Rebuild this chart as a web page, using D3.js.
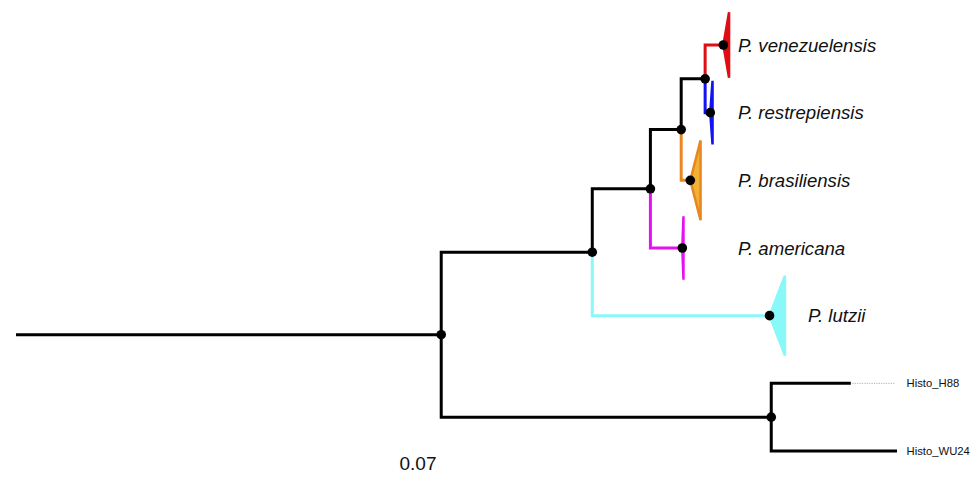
<!DOCTYPE html>
<html>
<head>
<meta charset="utf-8">
<script src="https://cdn.jsdelivr.net/npm/d3@7"></script>
<style>
  html, body { margin: 0; padding: 0; background: #fff; }
  svg { display: block; }
</style>
</head>
<body>
<div id="chart"></div>
<script>
// tree: node ids, parents, branch lengths (substitutions/site)
const nodeIds = ["root", "A", "B", "C", "D", "venezuelensis", "restrepiensis", "brasiliensis", "americana", "lutzii", "Histo", "Histo_H88", "Histo_WU24"];
const parentIds = [null, "root", "A", "B", "C", "D", "D", "C", "B", "A", "root", "Histo", "Histo"];
const branchLengths = [0.746, 0.265, 0.102, 0.054, 0.042, 0.032, 0.009, 0.016, 0.056, 0.311, 0.579, 0.137, 0.218];

// collapsed clades
const cladeIds = ["venezuelensis", "restrepiensis", "brasiliensis", "americana", "lutzii"];
const cladeLabels = ["P. venezuelensis", "P. restrepiensis", "P. brasiliensis", "P. americana", "P. lutzii"];
const cladeDepths = [0.010, 0.004, 0.018, 0.002, 0.027];
const cladeSpreads = [1.0, 0.97, 1.21, 0.97, 1.21];
const cladeColors = ["#e00d12", "#1212f5", "#e8871f", "#e312f2", "#88f8f8"];
const cladeFills = ["#e00d12", "#1212f5", "#f1b135", "#e312f2", "#88f8f8"];

const scaleLabel = "0.07";

const width = 978, height = 490;
const svg = d3.select("#chart").append("svg")
    .attr("width", width)
    .attr("height", height);

const table = nodeIds.map((id, i) => ({ id: id, parent: parentIds[i], len: branchLengths[i] }));
const root = d3.stratify().id(d => d.id).parentId(d => d.parent)(table);

root.eachBefore(n => { n.dist = (n.parent ? n.parent.dist : 0) + n.data.len; });

const leaves = root.leaves();
const x = d3.scaleLinear().domain([0, 1]).range([16, 586]);
const y = d3.scalePoint().domain(leaves.map(d => d.id)).range([45, 451]);
const rowStep = y.step();

root.eachAfter(n => {
    n.py = n.children ? d3.mean(n.children, c => c.py) : y(n.id);
});

const colorOf = id => {
    const i = cladeIds.indexOf(id);
    return i < 0 ? "#000" : cladeColors[i];
};

const g = svg.append("g");

// root stem
g.append("line")
    .attr("x1", x(0)).attr("x2", x(root.dist))
    .attr("y1", root.py).attr("y2", root.py)
    .attr("stroke", "#000").attr("stroke-width", 3);

// branches (elbow)
g.append("g")
    .selectAll("path")
    .data(root.descendants().filter(d => d.parent))
    .join("path")
    .attr("fill", "none")
    .attr("stroke", d => colorOf(d.id))
    .attr("stroke-width", 3)
    .attr("stroke-linejoin", "miter")
    .attr("stroke-linecap", "square")
    .attr("d", d => `M${x(d.parent.dist)},${d.parent.py}V${d.py}H${x(d.dist)}`);

// collapsed clade triangles
const clades = cladeIds.map((id, i) => ({
    node: root.find(n => n.id === id),
    label: cladeLabels[i],
    depth: cladeDepths[i],
    spread: cladeSpreads[i],
    color: cladeColors[i],
    fill: cladeFills[i]
}));

g.append("g")
    .selectAll("path")
    .data(clades)
    .join("path")
    .attr("fill", d => d.fill)
    .attr("stroke", d => d.color)
    .attr("stroke-width", 2.5)
    .attr("stroke-linejoin", "bevel")
    .attr("d", d => {
        const x0 = x(d.node.dist), x1 = x(d.node.dist + d.depth);
        const h = d.spread * rowStep / 2 - 1;
        return `M${x0},${d.node.py}L${x1},${d.node.py - h}L${x1},${d.node.py + h}Z`;
    });

// dotted guide for the short tip
const tips = leaves.filter(d => !cladeIds.includes(d.id));
const tipMax = d3.max(tips, d => x(d.dist));
g.append("g")
    .selectAll("line")
    .data(tips.filter(d => x(d.dist) < tipMax - 1))
    .join("line")
    .attr("x1", d => x(d.dist) + 3).attr("x2", tipMax)
    .attr("y1", d => d.py).attr("y2", d => d.py)
    .attr("stroke", "#999")
    .attr("stroke-width", 0.8)
    .attr("stroke-dasharray", "1.2,1.2");

// node dots
const dotted = root.descendants().filter(d => d.children || cladeIds.includes(d.id));
g.append("g")
    .selectAll("circle")
    .data(dotted)
    .join("circle")
    .attr("cx", d => x(d.dist))
    .attr("cy", d => d.py)
    .attr("r", 4.8)
    .attr("fill", "#000");

// clade labels
const edge = d => x(d.node.dist + d.depth);
const alignX = 738;
g.append("g")
    .selectAll("text")
    .data(clades)
    .join("text")
    .attr("x", d => d.node.id === "lutzii" ? edge(d) + 23 : alignX)
    .attr("y", d => d.node.py)
    .attr("dy", "0.36em")
    .attr("font-family", "'Liberation Sans', Arial, Helvetica, sans-serif")
    .attr("font-style", "italic")
    .attr("font-size", 18.6)
    .attr("fill", "#111")
    .text(d => d.label);

// tip labels
g.append("g")
    .selectAll("text")
    .data(tips)
    .join("text")
    .attr("x", tipMax + 11)
    .attr("y", d => d.py)
    .attr("dy", "0.36em")
    .attr("font-family", "'Liberation Sans', Arial, Helvetica, sans-serif")
    .attr("font-size", 11.3)
    .attr("fill", "#111")
    .text(d => d.id);

// scale label
svg.append("text")
    .attr("x", 418)
    .attr("y", 463)
    .attr("dy", "0.36em")
    .attr("text-anchor", "middle")
    .attr("font-family", "'Liberation Sans', Arial, Helvetica, sans-serif")
    .attr("font-size", 19)
    .attr("fill", "#111")
    .text(scaleLabel);
</script>
</body>
</html>
